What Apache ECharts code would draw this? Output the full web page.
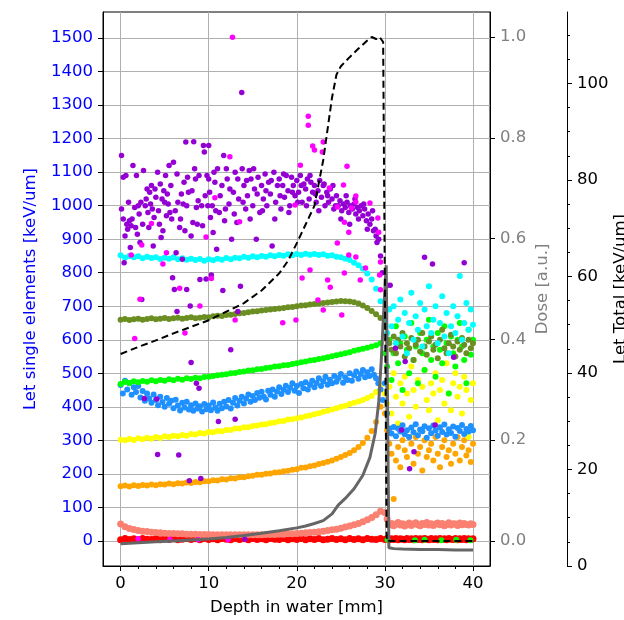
<!DOCTYPE html>
<html>
<head>
<meta charset="utf-8">
<script src="https://cdn.jsdelivr.net/npm/echarts@6/dist/echarts.min.js"></script>
<style>
  html, body { margin: 0; padding: 0; background: #fff; }
  #chart { width: 624px; height: 620px; }
</style>
</head>
<body>
<div id="chart"></div>
<script>
// depth grids [mm]
const depthFront = [0, 0.5, 1, 1.5, 2, 2.5, 3, 3.5, 4, 4.5, 5, 5.5, 6, 6.5, 7, 7.5, 8, 8.5, 9, 9.5,
  10, 10.5, 11, 11.5, 12, 12.5, 13, 13.5, 14, 14.5, 15, 15.5, 16, 16.5, 17, 17.5, 18, 18.5, 19, 19.5,
  20, 20.5, 21, 21.5, 22, 22.5, 23, 23.5, 24, 24.5, 25, 25.5, 26, 26.5, 27, 27.5, 28, 28.5, 29, 29.5];
const depthTail = [30, 30.25, 30.5, 30.75, 31, 31.25, 31.5, 31.75, 32, 32.25, 32.5, 32.75, 33, 33.25,
  33.5, 33.75, 34, 34.25, 34.5, 34.75, 35, 35.25, 35.5, 35.75, 36, 36.25, 36.5, 36.75, 37, 37.25,
  37.5, 37.75, 38, 38.25, 38.5, 38.75, 39, 39.25, 39.5, 39.75, 40];
const depthFine = [0, 0.25, 0.5, 0.75, 1, 1.25, 1.5, 1.75, 2, 2.25, 2.5, 2.75, 3, 3.25, 3.5, 3.75,
  4, 4.25, 4.5, 4.75, 5, 5.25, 5.5, 5.75, 6, 6.25, 6.5, 6.75, 7, 7.25, 7.5, 7.75, 8, 8.25, 8.5, 8.75,
  9, 9.25, 9.5, 9.75, 10, 10.25, 10.5, 10.75, 11, 11.25, 11.5, 11.75, 12, 12.25, 12.5, 12.75,
  13, 13.25, 13.5, 13.75, 14, 14.25, 14.5, 14.75, 15, 15.25, 15.5, 15.75, 16, 16.25, 16.5, 16.75,
  17, 17.25, 17.5, 17.75, 18, 18.25, 18.5, 18.75, 19, 19.25, 19.5, 19.75, 20, 20.25, 20.5, 20.75,
  21, 21.25, 21.5, 21.75, 22, 22.25, 22.5, 22.75, 23, 23.25, 23.5, 23.75, 24, 24.25, 24.5, 24.75,
  25, 25.25, 25.5, 25.75, 26, 26.25, 26.5, 26.75, 27, 27.25, 27.5, 27.75, 28, 28.25, 28.5, 28.75,
  29, 29.25, 29.5, 29.75];

// LET single elements [keV/um]
const cyanFront = [852, 845, 850, 846, 849, 843, 848, 844, 846, 841, 845, 842, 846, 840, 843, 839, 842, 838, 841, 836,
  840, 837, 842, 839, 844, 840, 845, 843, 848, 845, 849, 846, 850, 848, 852, 849, 853, 851, 855, 852,
  856, 853, 857, 854, 856, 853, 855, 851, 852, 848, 846, 842, 838, 830, 822, 812, 798, 780, 752, 715];
const cyanTail = [660, 620, 690, 640, 700, 590, 660, 720, 610, 680, 560, 650, 740, 600, 670, 630, 710, 580, 690, 640,
  760, 620, 660, 700, 590, 650, 730, 610, 680, 560, 640, 700, 620, 670, 790, 600, 650, 710, 630, 690, 645];

const oliveFront = [660, 662, 659, 661, 663, 660, 662, 664, 661, 663, 665, 662, 664, 666, 663, 665, 667, 664, 666, 668,
  667, 670, 672, 671, 674, 675, 677, 679, 680, 682, 684, 685, 687, 689, 690, 692, 693, 695, 697, 698,
  700, 702, 703, 705, 707, 708, 710, 711, 713, 714, 716, 715, 714, 712, 708, 702, 695, 686, 676, 665];
const oliveTail = [640, 600, 590, 570, 610, 560, 600, 580, 620, 550, 590, 575, 605, 540, 585, 600, 565, 620, 580, 555,
  595, 610, 570, 585, 545, 600, 630, 575, 560, 590, 615, 580, 550, 595, 570, 605, 585, 560, 600, 575, 590];

const limeFront = [468, 474, 471, 476, 473, 477, 475, 479, 476, 480, 478, 482, 479, 484, 481, 485, 483, 487, 485, 489,
  490, 492, 494, 496, 497, 500, 501, 504, 505, 508, 509, 512, 513, 516, 517, 520, 521, 524, 525, 528,
  530, 533, 535, 538, 540, 543, 545, 548, 551, 554, 557, 560, 563, 567, 570, 573, 576, 580, 584, 590];
const limeTail = [560, 520, 600, 480, 560, 640, 530, 590, 450, 610, 570, 500, 650, 540, 580, 470, 620, 560, 510, 600,
  660, 540, 580, 490, 620, 570, 530, 640, 590, 440, 610, 560, 520, 600, 650, 580, 540, 470, 630, 555, 600];
const limeLowDepth = [30.3, 33.4, 34.5, 36.4, 38.1, 39.7];
const limeLowValues = [3, 2, 3, 2, 3, 2];

const blueFine = [465, 440, 478, 452, 470, 436, 458, 444, 462, 428, 447, 418, 440, 425, 412, 437,
  420, 405, 430, 414, 400, 426, 409, 418, 396, 421, 404, 389, 412, 398, 415, 392, 405, 388, 410, 395,
  402, 386, 408, 393, 404, 390, 413, 398, 388, 409, 396, 415, 401, 420, 395, 412,
  426, 404, 418, 430, 410, 425, 437, 415, 432, 420, 441, 427, 445, 430, 422, 448,
  436, 452, 430, 446, 458, 438, 451, 463, 444, 457, 470, 448, 462, 441, 468, 455,
  473, 452, 466, 478, 458, 471, 485, 462, 476, 490, 466, 481, 470, 492, 475, 486,
  498, 472, 488, 480, 500, 478, 494, 505, 484, 498, 510, 488, 503, 492, 512, 496,
  485, 470, 452, 420];
const blueTail = [470, 380, 335, 320, 340, 312, 335, 326, 345, 318, 330, 310, 338, 324, 348, 315, 332, 327, 342, 308,
  336, 321, 344, 329, 314, 339, 325, 347, 317, 333, 322, 341, 311, 337, 328, 346, 319, 334, 326, 343, 330];

const yellowFront = [302, 300, 304, 301, 306, 303, 308, 305, 310, 307, 312, 310, 314, 312, 316, 314, 319, 317, 322, 320,
  325, 324, 328, 327, 331, 331, 335, 335, 339, 339, 343, 344, 347, 348, 352, 353, 357, 358, 362, 363,
  366, 368, 372, 374, 378, 381, 385, 388, 392, 396, 400, 403, 408, 412, 416, 420, 426, 432, 444, 465];
const yellowTail = [440, 410, 460, 380, 500, 430, 350, 470, 410, 490, 440, 370, 520, 450, 400, 480, 330, 460, 510, 420,
  390, 470, 440, 500, 360, 450, 480, 410, 530, 440, 390, 470, 500, 430, 460, 380, 490, 450, 310, 420, 470];

const orangeFront = [163, 165, 162, 166, 164, 167, 165, 168, 166, 169, 168, 171, 169, 172, 171, 174, 173, 176, 175, 178,
  178, 181, 180, 184, 183, 187, 186, 190, 190, 193, 194, 197, 197, 200, 201, 204, 205, 208, 209, 212,
  214, 218, 219, 223, 225, 229, 232, 236, 240, 245, 250, 256, 262, 270, 280, 292, 308, 328, 355, 400];
const orangeTail = [380, 330, 290, 260, 125, 240, 280, 220, 300, 270, 250, 310, 290, 230, 310, 260, 280, 210, 300, 250,
  270, 290, 240, 310, 260, 220, 280, 300, 250, 270, 230, 290, 260, 310, 240, 280, 300, 255, 270, 235, 290];

const salmonFront = [50, 42, 37, 34, 31, 29, 28, 26, 25, 24, 23, 22, 22, 21, 21, 20, 20, 20, 19, 19,
  19, 18, 18, 18, 18, 18, 18, 18, 18, 18, 18, 18, 18, 19, 19, 19, 20, 20, 21, 21,
  22, 23, 24, 25, 26, 27, 29, 31, 33, 35, 38, 41, 44, 48, 52, 57, 63, 70, 78, 88];
const salmonTail = [85, 65, 48, 52, 45, 50, 55, 47, 51, 44, 49, 53, 46, 50, 54, 48, 45, 52, 49, 55,
  47, 51, 46, 50, 53, 48, 52, 45, 49, 54, 47, 51, 50, 46, 53, 48, 52, 49, 47, 51, 49];

const redFront = [3, 7, 4, 6, 3, 7, 5, 4, 7, 3, 6, 4, 7, 3, 5, 7, 4, 6, 3, 7,
  4, 6, 3, 7, 5, 3, 7, 4, 6, 3, 7, 4, 6, 3, 7, 5, 4, 7, 3, 6,
  4, 7, 3, 6, 4, 7, 3, 5, 7, 4, 6, 3, 7, 4, 6, 3, 7, 5, 4, 7];
const redTail = [4, 7, 3, 6, 4, 7, 3, 6, 5, 3, 7, 4, 6, 3, 7, 4, 6, 3, 7, 5,
  3, 7, 4, 6, 3, 7, 4, 6, 3, 7, 5, 4, 7, 3, 6, 4, 7, 3, 6, 4, 6];

const violetPoints = [
  [0.1, 1150], [0.1, 990], [0.3, 960], [0.3, 1085], [0.4, 830], [0.5, 910], [0.6, 1090], [0.7, 945], [0.8, 930],
  [0.9, 1010], [1.0, 955], [1.1, 875], [1.2, 940], [1.3, 960], [1.4, 1120], [1.6, 995], [1.7, 935], [1.8, 1090],
  [1.9, 915], [2.0, 1000], [2.1, 975], [2.2, 890], [2.3, 1010], [2.4, 720], [2.5, 945], [2.6, 1105], [2.7, 425],
  [2.8, 1000], [2.9, 1020], [3.0, 1050], [3.1, 980], [3.2, 935], [3.3, 1040], [3.4, 1005], [3.5, 1060], [3.6, 990],
  [3.7, 880], [3.8, 965], [3.9, 1050], [4.0, 1025], [4.1, 423], [4.2, 1100], [4.2, 258], [4.3, 985], [4.4, 945],
  [4.5, 1065], [4.6, 905], [4.7, 1020], [4.8, 925], [4.9, 1045], [5.0, 1010], [5.1, 1090], [5.2, 970], [5.3, 1035],
  [5.4, 1005], [5.5, 1120], [5.6, 980], [5.7, 1060], [5.8, 960], [5.9, 785], [6.0, 1130], [6.1, 750], [6.2, 985],
  [6.3, 860], [6.4, 684], [6.4, 1095], [6.5, 1010], [6.6, 256], [6.7, 935], [6.8, 960], [6.9, 1035], [7.0, 840],
  [7.1, 1005], [7.2, 1070], [7.3, 925], [7.4, 1190], [7.5, 1000], [7.5, 750], [7.6, 1085], [7.7, 1040], [7.8, 179],
  [7.9, 701], [8.0, 910], [8.0, 532], [8.1, 1045], [8.2, 950], [8.3, 1191], [8.4, 1110], [8.5, 1080], [8.6, 470],
  [8.6, 995], [8.7, 945], [8.8, 1015], [8.9, 1090], [8.9, 455], [9.0, 780], [9.1, 186], [9.2, 1000], [9.3, 940],
  [9.4, 1180], [9.5, 1160], [9.6, 1030], [9.7, 781], [9.8, 1090], [9.9, 1000], [10.0, 1080], [10.0, 1180],
  [10.1, 1040], [10.2, 965], [10.3, 793], [10.4, 1000], [10.5, 920], [10.6, 1100], [10.7, 1070], [10.8, 985],
  [10.9, 870], [11.0, 1110], [11.1, 356], [11.2, 980], [11.3, 1030], [11.5, 1060], [11.6, 747], [11.7, 1150],
  [11.8, 955], [11.9, 990], [12.0, 1110], [12.1, 1080], [12.3, 1005], [12.4, 1050], [12.5, 570], [12.6, 900],
  [12.8, 1040], [12.9, 975], [13.0, 1100], [13.0, 363], [13.2, 950], [13.3, 684], [13.3, 1080], [13.4, 1020],
  [13.6, 760], [13.75, 1338], [13.8, 1110], [13.9, 1010], [14.0, 1060], [14.1, 5], [14.2, 990], [14.3, 1075],
  [14.4, 1030], [14.6, 1105], [14.7, 960], [14.8, 1080], [15.0, 1000], [15.1, 1110], [15.2, 1050], [15.4, 900],
  [15.5, 1035], [15.6, 1085], [15.8, 980], [16.0, 1060], [16.1, 985], [16.2, 1020], [16.4, 1095], [16.5, 1045],
  [16.6, 1000], [16.8, 1070], [17.0, 1035], [17.1, 1075], [17.2, 880], [17.4, 1100], [17.5, 960], [17.6, 1010],
  [17.8, 1060], [18.0, 1080], [18.1, 1030], [18.2, 990], [18.4, 1060], [18.5, 1095], [18.6, 1025], [18.8, 1090],
  [19.0, 1045], [19.1, 980], [19.2, 1000], [19.4, 1085], [19.5, 1040], [19.6, 1060], [19.8, 1030], [20.0, 1075],
  [20.1, 1010], [20.2, 1040], [20.4, 1090], [20.5, 1060], [20.6, 1010], [20.8, 1065], [21.0, 1050], [21.1, 1000],
  [21.2, 1080], [21.4, 1020], [21.5, 1090], [21.6, 1070], [21.8, 1040], [22.0, 1060], [22.1, 1035], [22.2, 1010],
  [22.4, 1045], [22.5, 985], [22.6, 1075], [22.8, 1025], [23.0, 1060], [23.1, 1065], [23.2, 1000], [23.4, 1040],
  [23.5, 1030], [23.6, 1010], [23.8, 1050], [24.0, 1020], [24.1, 1060], [24.2, 990], [24.4, 1000], [24.5, 1030],
  [24.7, 1000], [24.9, 1015], [25.0, 960], [25.1, 985], [25.3, 1005], [25.5, 995], [25.6, 1030], [25.7, 1010],
  [25.9, 980], [26.0, 945], [26.1, 1000], [26.3, 990], [26.5, 1005], [26.6, 1020], [26.7, 975], [26.9, 995],
  [27.0, 960], [27.1, 985], [27.3, 1000], [27.5, 970], [27.6, 1005], [27.7, 990], [27.9, 955], [28.0, 930],
  [28.1, 975], [28.3, 945], [28.5, 960], [28.6, 985], [28.7, 925], [28.9, 930], [29.0, 910], [29.1, 890],
  [29.3, 900], [29.5, 850], [29.7, 800], [30.3, 763], [30.6, 763], [31.2, 575], [31.9, 331], [32.3, 535],
  [32.8, 215], [33.3, 266], [34.5, 846], [35.4, 826], [35.7, 346], [37.8, 548], [39.0, 830]
];
const magentaPoints = [
  [1.2, 853], [1.6, 604], [2.2, 721], [2.4, 883], [3.5, 947], [4.8, 826], [5.2, 860], [6.7, 754],
  [7.3, 620], [9.0, 701], [9.7, 907], [10.3, 783], [10.7, 1024], [12.4, 1146], [12.7, 1503], [13.0, 659],
  [13.5, 952], [18.4, 651], [19.8, 1002], [19.9, 659], [20.4, 1121], [20.6, 784], [21.3, 1267], [21.3, 1240],
  [21.5, 808], [21.8, 1178], [22.0, 1166], [22.4, 719], [22.9, 1160], [23.0, 1190], [23.0, 689], [23.5, 778],
  [23.7, 1053], [23.8, 757], [24.6, 996], [24.6, 889], [25.1, 674], [25.3, 1062], [25.4, 951], [25.4, 799],
  [25.7, 1118], [25.9, 921], [25.9, 853], [26.2, 993], [26.7, 1029], [26.7, 1011], [26.7, 847], [27.2, 778],
  [27.8, 814], [28.3, 1008], [29.2, 963], [29.3, 921], [29.4, 793], [29.5, 832], [29.5, 749],
  [2.0, 6], [5.6, 4], [8.8, 3], [12.2, 3]
];

// Dose [a.u.]
const doseDepth = [0, 2, 4, 6, 8, 10, 12, 14, 16, 18, 19, 20, 21, 22, 23, 24, 24.5, 25, 26, 27,
  28, 28.5, 29, 29.4, 29.8, 30.2, 31, 35, 40];
const doseValues = [0.371, 0.385, 0.398, 0.412, 0.425, 0.438, 0.455, 0.472, 0.497, 0.531, 0.556, 0.591,
  0.628, 0.665, 0.756, 0.880, 0.925, 0.942, 0.960, 0.977, 0.993, 1.0, 0.996, 1.0, 0.99, 0, 0, 0, 0];

// LET total [keV/um]
const totalDepth = [0, 2, 4, 6, 8, 10, 12, 14, 16, 18, 20, 21, 22, 23, 24, 24.7, 25.5, 26.5, 27.5, 28.3,
  28.9, 29.3, 29.6, 29.9, 30.15, 30.45, 31, 32, 34, 36, 38, 40];
const totalValues = [4.6, 4.8, 5.0, 5.2, 5.4, 5.6, 5.9, 6.3, 6.8, 7.3, 7.9, 8.3, 8.8, 9.4, 10.8, 12.6,
  14.0, 16.0, 18.8, 22.5, 27.5, 34.0, 43.0, 54.0, 62.3, 3.8, 3.6, 3.5, 3.4, 3.4, 3.3, 3.3];

// axis ticks
const xTicks = [0, 10, 20, 30, 40];
const xMinorTicks = [2, 4, 6, 8, 12, 14, 16, 18, 22, 24, 26, 28, 32, 34, 36, 38];
const letTicks = [0, 100, 200, 300, 400, 500, 600, 700, 800, 900, 1000, 1100, 1200, 1300, 1400, 1500];
const doseTicks = [0, 0.2, 0.4, 0.6, 0.8, 1.0];
const totalTicks = [0, 20, 40, 60, 80, 100];
const totalMinorTicks = [5, 10, 15, 25, 30, 35, 45, 50, 55, 65, 70, 75, 85, 90, 95, 105, 110];

const FONT = 'DejaVu Sans';
const FS = 16.5;

function zip(xs, ys) {
  return xs.map((x, i) => [x, ys[i]]);
}

function dots(name, color, data, size) {
  return {
    name: name,
    type: 'scatter',
    xAxisIndex: 0,
    yAxisIndex: 0,
    data: data,
    symbolSize: size || 6,
    itemStyle: { color: color, opacity: 1 },
    z: 2,
    silent: true,
  };
}

const chart = echarts.init(document.getElementById('chart'));
chart.setOption({
  animation: false,
  grid: {
    left: 103, right: 134, top: 12, bottom: 54,
    outerBoundsMode: 'none',
    show: true, borderColor: '#000', borderWidth: 1, backgroundColor: 'transparent',
  },
  xAxis: [
    {
      type: 'value', min: -2.0, max: 41.93,
      name: 'Depth in water [mm]', nameLocation: 'middle', nameGap: 33,
      nameTextStyle: { color: '#000', fontSize: FS, fontFamily: FONT },
      axisLine: { show: true, onZero: false, lineStyle: { color: '#000' } },
      axisTick: { show: true, length: 5, customValues: xTicks, lineStyle: { color: '#000' } },
      axisLabel: { customValues: xTicks, color: '#000', fontSize: FS, fontFamily: FONT, margin: 9 },
      splitLine: { show: true, lineStyle: { color: '#b0b0b0', width: 1 } },
    },
    {
      type: 'value', min: -2.0, max: 41.93, position: 'bottom',
      axisLine: { show: false, onZero: false },
      axisTick: { show: true, length: 3, customValues: xMinorTicks, lineStyle: { color: '#000' } },
      axisLabel: { show: false },
      splitLine: { show: false },
    },
  ],
  yAxis: [
    {
      type: 'value', position: 'left', min: -75, max: 1578,
      name: 'Let single elements [keV/um]', nameLocation: 'middle', nameGap: 64,
      nameTextStyle: { color: 'blue', fontSize: FS, fontFamily: FONT },
      axisLine: { show: true, onZero: false, lineStyle: { color: '#000' } },
      axisTick: { show: true, length: 5, customValues: letTicks, lineStyle: { color: '#000' } },
      axisLabel: {
        customValues: letTicks, color: 'blue', fontSize: FS, fontFamily: FONT, margin: 10,
        formatter: (v) => String(v),
      },
      splitLine: { show: true, lineStyle: { color: '#b0b0b0', width: 1 } },
    },
    {
      type: 'value', position: 'right', min: -0.0496, max: 1.0496,
      name: 'Dose [a.u.]', nameLocation: 'middle', nameGap: 44, nameMoveOverlap: false,
      nameTextStyle: { color: 'gray', fontSize: FS, fontFamily: FONT },
      axisLine: { show: true, onZero: false, lineStyle: { color: '#000' } },
      axisTick: { show: true, length: 5, customValues: doseTicks, lineStyle: { color: '#000' } },
      axisLabel: {
        customValues: doseTicks, color: 'gray', fontSize: FS, fontFamily: FONT, margin: 10,
        formatter: (v) => v.toFixed(1),
      },
      splitLine: { show: false },
    },
    {
      type: 'value', position: 'right', offset: 77, min: 0, max: 114.8,
      name: 'Let Total [keV/um]', nameLocation: 'middle', nameGap: 45, nameMoveOverlap: false,
      nameTextStyle: { color: '#000', fontSize: FS, fontFamily: FONT },
      axisLine: { show: true, onZero: false, lineStyle: { color: '#000' } },
      axisTick: { show: true, length: 5, customValues: totalTicks, lineStyle: { color: '#000' } },
      axisLabel: { customValues: totalTicks, color: '#000', fontSize: FS, fontFamily: FONT, margin: 10 },
      splitLine: { show: false },
    },
    {
      type: 'value', position: 'right', offset: 77, min: 0, max: 114.8,
      axisLine: { show: false, onZero: false },
      axisTick: { show: true, length: 3, customValues: totalMinorTicks, lineStyle: { color: '#000' } },
      axisLabel: { show: false },
      splitLine: { show: false },
    },
  ],
  series: [
    dots('red', '#ff0000', zip(depthFront, redFront).concat(zip(depthTail, redTail)), 7),
    dots('salmon', '#fa8072', zip(depthFront, salmonFront).concat(zip(depthTail, salmonTail)), 7),
    dots('orange', '#ffa500', zip(depthFront, orangeFront).concat(zip(depthTail, orangeTail))),
    dots('yellow', '#ffff00', zip(depthFront, yellowFront).concat(zip(depthTail, yellowTail))),
    dots('dodgerblue', '#1e90ff', zip(depthFine, blueFine).concat(zip(depthTail, blueTail))),
    dots('lime', '#00ff00', zip(depthFront, limeFront).concat(zip(depthTail, limeTail), zip(limeLowDepth, limeLowValues))),
    dots('olivedrab', '#6b8e23', zip(depthFront, oliveFront).concat(zip(depthTail, oliveTail))),
    dots('cyan', '#00ffff', zip(depthFront, cyanFront).concat(zip(depthTail, cyanTail))),
    dots('darkviolet', '#9400d3', violetPoints, 5.5),
    dots('magenta', '#ff00ff', magentaPoints, 5.5),
    {
      name: 'Let Total', type: 'line', xAxisIndex: 0, yAxisIndex: 2,
      data: zip(totalDepth, totalValues), showSymbol: false, symbol: 'none',
      lineStyle: { color: '#666666', width: 3 }, z: 4, silent: true,
    },
    {
      name: 'Dose', type: 'line', xAxisIndex: 0, yAxisIndex: 1,
      data: zip(doseDepth, doseValues), showSymbol: false, symbol: 'none',
      lineStyle: { color: '#000', width: 2, type: [7, 4] }, z: 5, silent: true,
    },
  ],
});
</script>
</body>
</html>
